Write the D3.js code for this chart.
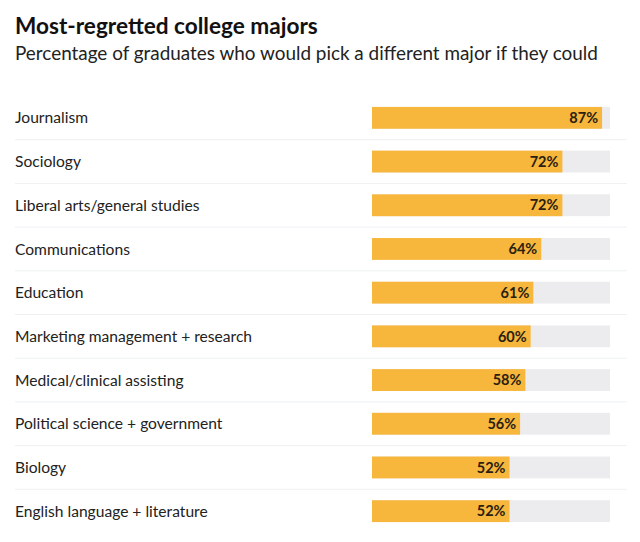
<!DOCTYPE html>
<html><head><meta charset="utf-8">
<script src="https://cdn.jsdelivr.net/npm/d3@7"></script>
<style>body{margin:0;background:#fff;}svg{display:block;}</style>
</head><body>
<svg id="c" width="640" height="542"></svg>
<script>
const categories = ["Journalism","Sociology","Liberal arts/general studies","Communications","Education","Marketing management + research","Medical/clinical assisting","Political science + government","Biology","English language + literature"];
const values = [87,72,72,64,61,60,58,56,52,52];
const titleText = "Most-regretted college majors";
const subtitleText = "Percentage of graduates who would pick a different major if they could";

const svg = d3.select("#c");
const font = "Lato, 'Open Sans', sans-serif";
svg.append("rect").attr("width",640).attr("height",542).attr("fill","#fff");
svg.append("text").attr("x",15).attr("y",34).text(titleText)
  .attr("font-family",font).attr("font-weight",700).attr("font-size",22.6).attr("fill","#111");
svg.append("text").attr("x",15).attr("y",60).text(subtitleText)
  .attr("font-family",font).attr("font-size",18.9).attr("fill","#222");

const y = d3.scaleBand().domain(categories).range([96,533]).paddingInner(0.5).paddingOuter(0.25);
const step = y.step();
const x = d3.scaleLinear().domain([0,90]).range([372,610]);

const rows = svg.selectAll("g.row").data(categories).join("g").attr("class","row");
rows.filter((d,i)=>i<categories.length-1).append("line")
  .attr("x1",15).attr("x2",627)
  .attr("y1",d=>y(d)+y.bandwidth()/2+step/2).attr("y2",d=>y(d)+y.bandwidth()/2+step/2)
  .attr("stroke","#eef0f2").attr("stroke-width",1);
rows.append("text").attr("x",15).attr("y",d=>y(d)+y.bandwidth()/2).attr("dy","0.36em")
  .text(d=>d).attr("font-family",font).attr("font-size",15.6).attr("fill","#222");
rows.append("rect").attr("x",x(0)).attr("y",d=>y(d)).attr("height",y.bandwidth())
  .attr("width",x(90)-x(0)).attr("fill","#ececee");
rows.append("rect").attr("x",x(0)).attr("y",d=>y(d)).attr("height",y.bandwidth())
  .attr("width",(d,i)=>x(values[i])-x(0)).attr("fill","#f6b73c");
rows.append("text").attr("x",(d,i)=>x(values[i])-4).attr("y",d=>y(d)+y.bandwidth()/2).attr("dy","0.36em")
  .attr("text-anchor","end").text((d,i)=>values[i]+"%")
  .attr("font-family",font).attr("font-weight",700).attr("font-size",14.5).attr("fill","#2a2010");
</script>
</body></html>
